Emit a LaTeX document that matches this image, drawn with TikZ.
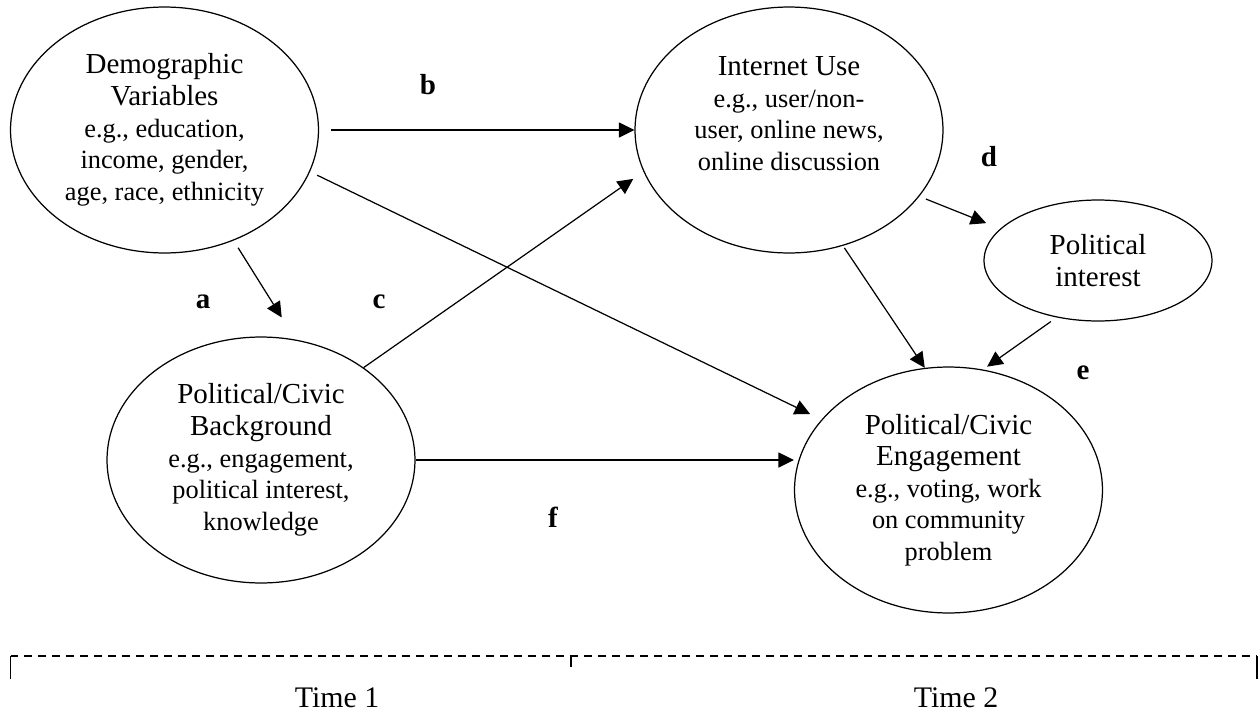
\documentclass[tikz,border=0pt]{standalone}
\usepackage{fontspec}
\setmainfont{Liberation Serif}
\usetikzlibrary{arrows.meta, shapes.geometric}
\newcommand{\egfont}{\fontsize{15}{18}\selectfont}

\begin{document}
\begin{tikzpicture}[
    x=0.02cm, y=-0.02cm,
    var/.style={draw, ellipse, line width=0.7pt, minimum width=6.16cm, minimum height=4.92cm, inner sep=0pt, align=center, font=\fontsize{16.5}{18}\selectfont},
    lbl/.style={font=\fontsize{16.5}{18}\selectfont\bfseries},
    arrow/.style={-{Triangle[length=0.31cm, width=0.3cm]}, line width=0.7pt},
    period/.style={dash pattern=on 0.16cm off 0.12cm, line width=1.1pt},
    bracket/.style={line width=1.1pt}
]
    \useasboundingbox (0,0) rectangle (1259,717);

    % Time 1 variables
    \node[var] (demo) at (164.5,130) {Demographic\\Variables\\\egfont e.g., education,\\\egfont income, gender,\\\egfont age, race, ethnicity};
    \node[var] (backgr) at (261,460) {Political/Civic\\Background\\\egfont e.g., engagement,\\\egfont political interest,\\\egfont knowledge};

    % Time 2 variables
    \node[var, text depth=18.7pt] (inet) at (789,130) {Internet Use\\\egfont e.g., user/non-\\\egfont user, online news,\\\egfont online discussion};
    \node[var, minimum width=4.56cm, minimum height=2.42cm] (polint) at (1098,260.5) {Political\\interest};
    \node[var] (engage) at (948.5,490) {Political/Civic\\Engagement\\\egfont e.g., voting, work\\\egfont on community\\\egfont problem};

    % Paths
    \draw[arrow, shorten <=0.17cm, shorten >=0.52cm] (demo.-58.9) -- (backgr.74.1);
    \draw[arrow, shorten <=0.24cm] (demo.east) -- (inet.west);
    \draw[arrow, shorten >=0.25cm] (backgr.42.6) -- (inet.-164.7);
    \draw[arrow, shorten <=0.16cm, shorten >=0.25cm] (demo.-16.8) -- (engage.151.3);
    \draw[arrow, shorten <=0.14cm, shorten >=0.3cm] (inet.-27.7) -- (polint.162.4);
    \draw[arrow, shorten <=0.05cm] (inet.-65.6) -- (engage.101.7);
    \draw[arrow, shorten <=0.14cm, shorten >=0.1cm] (polint.-126.2) -- (engage.74);
    \draw[arrow] (backgr.east) -- (backgr.east -| engage.west);

    % Path labels
    \node[lbl] (la) at (203,302) {a};
    \node[lbl] (lb) at (428,85) {b};
    \node[lbl] (lc) at (379,302) {c};
    \node[lbl] (ld) at (989,157) {d};
    \node[lbl] (le) at (1083,373) {e};
    \node[lbl] (lf) at (553,517) {f};

    % Time periods
    \draw[period] (10.5,656) -- (1257,656);
    \draw[bracket] (10.5,679) -- (10.5,656);
    \draw[bracket] (571,667) -- (571,656);
    \draw[bracket] (1257,679) -- (1257,656);
    \node[font=\fontsize{17}{18}\selectfont] (time1) at (337,698) {Time 1};
    \node[font=\fontsize{17}{18}\selectfont] (time2) at (956,698) {Time 2};
\end{tikzpicture}
\end{document}
